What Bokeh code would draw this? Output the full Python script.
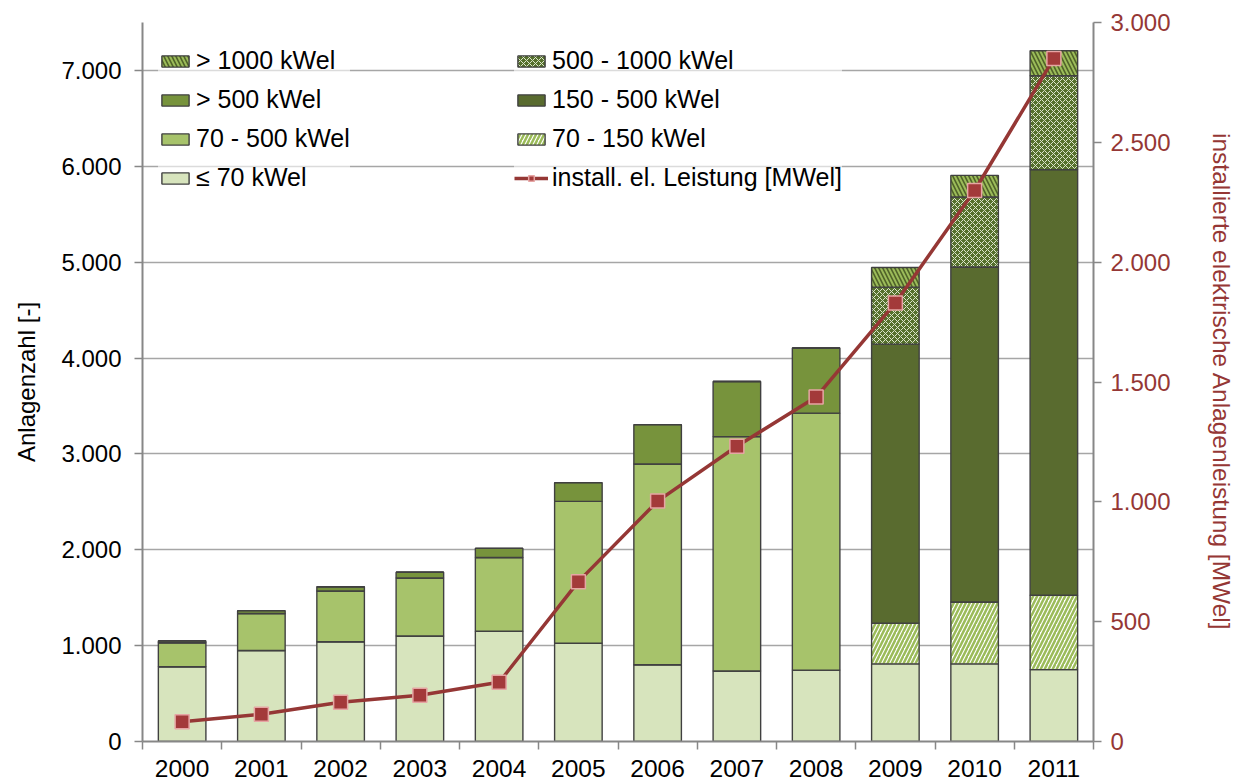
from bokeh.plotting import figure
from bokeh.models import (ColumnDataSource, Range1d, LinearAxis, FixedTicker,
                          CustomJSTickFormatter, Legend, LegendItem)
from bokeh.transform import stack
from bokeh.embed import file_html
from bokeh.resources import INLINE

# ---------------- data ----------------
years = [2000, 2001, 2002, 2003, 2004, 2005, 2006, 2007, 2008, 2009, 2010, 2011]
le70 = [780, 950, 1040, 1100, 1150, 1025, 800, 735, 745, 810, 810, 750]
kw70_150 = [0, 0, 0, 0, 0, 0, 0, 0, 0, 425, 645, 775]
kw70_500 = [250, 385, 530, 605, 770, 1480, 2095, 2445, 2680, 0, 0, 0]
kw150_500 = [0, 0, 0, 0, 0, 0, 0, 0, 0, 2910, 3495, 4440]
gt500 = [20, 30, 45, 60, 95, 195, 410, 575, 680, 0, 0, 0]
kw500_1000 = [0, 0, 0, 0, 0, 0, 0, 0, 0, 595, 730, 980]
gt1000 = [0, 0, 0, 0, 0, 0, 0, 0, 0, 205, 225, 260]
power_mw = [82, 114, 164, 193, 247, 667, 1003, 1232, 1437, 1830, 2299, 2850]

left_ticks = [0, 1000, 2000, 3000, 4000, 5000, 6000, 7000]
right_ticks = [0, 500, 1000, 1500, 2000, 2500, 3000]

labels = {
    "le70": "\u2264 70 kWel",
    "kw70_150": "70 - 150 kWel",
    "kw70_500": "70 - 500 kWel",
    "kw150_500": "150 - 500 kWel",
    "gt500": "> 500 kWel",
    "kw500_1000": "500 - 1000 kWel",
    "gt1000": "> 1000 kWel",
    "power": "install. el. Leistung [MWel]",
}

src = ColumnDataSource(dict(years=years, le70=le70, kw70_150=kw70_150, kw70_500=kw70_500,
                            kw150_500=kw150_500, gt500=gt500, kw500_1000=kw500_1000,
                            gt1000=gt1000, power=power_mw))

FONT = "Liberation Sans"
RED = "#953735"
AXIS = "#878787"

p = figure(width=1237, height=780, output_backend="svg", toolbar_location=None,
           x_range=Range1d(years[0] - 0.5, years[-1] + 0.5),
           y_range=Range1d(0, 7500),
           min_border_left=142, min_border_right=137, min_border_top=22, min_border_bottom=39)
p.extra_y_ranges = {"right": Range1d(0, 3000)}
p.outline_line_color = None
p.background_fill_color = "white"
p.border_fill_color = "white"

# ---------------- stacked bars ----------------
order = ["le70", "kw70_150", "kw70_500", "kw150_500", "gt500", "kw500_1000", "gt1000"]
styles = {
    "le70": dict(fill_color="#D7E4BD"),
    "kw70_150": dict(fill_color="white", hatch_pattern="right_diagonal_line",
                     hatch_color="#9BBB59", hatch_weight=2.5, hatch_scale=8),
    "kw70_500": dict(fill_color="#A7C36B"),
    "kw150_500": dict(fill_color="#596B2F"),
    "gt500": dict(fill_color="#77933C"),
    "kw500_1000": dict(fill_color="#55702C", hatch_pattern="diagonal_cross",
                       hatch_color="#DDE5CC", hatch_weight=1, hatch_scale=6),
    "gt1000": dict(fill_color="#4F6228", hatch_pattern="left_diagonal_line",
                   hatch_color="#9BBB59", hatch_weight=2, hatch_scale=8),
}
renderers = {}
for i, key in enumerate(order):
    r = p.vbar(x="years", width=0.6, bottom=stack(*order[:i]), top=stack(*order[:i + 1]),
               source=src, line_color="#404040", line_width=1.4, **styles[key])
    renderers[key] = r

# ---------------- line on right axis ----------------
lr = p.line(x="years", y="power", source=src, y_range_name="right",
            line_color=RED, line_width=3.5)
sr = p.scatter(x="years", y="power", source=src, y_range_name="right", marker="square",
               size=14, fill_color="#A33A3A", line_color="#E6A5A4", line_width=1.5)

# ---------------- axes ----------------
fmt = CustomJSTickFormatter(code=r"return Math.round(tick).toString().replace(/\B(?=(\d{3})+(?!\d))/g, '.');")

p.xaxis.ticker = FixedTicker(ticks=years, minor_ticks=[y - 0.5 for y in years] + [years[-1] + 0.5])
p.xaxis.major_tick_out = 0
p.xaxis.major_tick_in = 0
p.xaxis.minor_tick_out = 8
p.xaxis.minor_tick_in = 0
p.xaxis.minor_tick_line_color = AXIS
p.xaxis.minor_tick_line_width = 1.5
p.xaxis.axis_line_color = AXIS
p.xaxis.axis_line_width = 2
p.xaxis.major_label_standoff = 10
p.xaxis.major_label_text_font = FONT
p.xaxis.major_label_text_font_size = "24.5px"
p.xaxis.major_label_text_color = "black"

p.yaxis.ticker = FixedTicker(ticks=left_ticks)
p.yaxis.formatter = fmt
p.yaxis.major_tick_out = 8
p.yaxis.major_tick_in = 0
p.yaxis.minor_tick_out = 0
p.yaxis.minor_tick_in = 0
p.yaxis.axis_line_color = AXIS
p.yaxis.axis_line_width = 2
p.yaxis.major_tick_line_color = AXIS
p.yaxis.major_tick_line_width = 1.5
p.yaxis.major_label_standoff = 13
p.yaxis.major_label_text_font = FONT
p.yaxis.major_label_text_font_size = "24px"
p.yaxis.major_label_text_color = "black"
p.yaxis.axis_label = "Anlagenzahl [-]"
p.yaxis.axis_label_text_font = FONT
p.yaxis.axis_label_text_font_size = "24px"
p.yaxis.axis_label_text_font_style = "normal"
p.yaxis.axis_label_text_color = "black"
p.yaxis.axis_label_standoff = 18

ra = LinearAxis(y_range_name="right", ticker=FixedTicker(ticks=right_ticks), formatter=fmt)
ra.major_tick_out = 8
ra.major_tick_in = 0
ra.minor_tick_out = 0
ra.minor_tick_in = 0
ra.axis_line_color = AXIS
ra.axis_line_width = 2
ra.major_tick_line_color = AXIS
ra.major_tick_line_width = 1.5
ra.major_label_standoff = 9
ra.major_label_text_font = FONT
ra.major_label_text_font_size = "24px"
ra.major_label_text_color = RED
ra.axis_label = "installierte elektrische Anlagenleistung [MWel]"
ra.axis_label_text_font = FONT
ra.axis_label_text_font_size = "24.5px"
ra.axis_label_text_font_style = "normal"
ra.axis_label_text_color = RED
ra.axis_label_standoff = 34
p.add_layout(ra, "right")

p.xgrid.grid_line_color = None
p.ygrid.ticker = FixedTicker(ticks=left_ticks)
p.ygrid.grid_line_color = "#A6A6A6"
p.ygrid.grid_line_width = 1.5

# ---------------- legends ----------------
def make_legend(items, loc):
    lg = Legend(items=items, location=loc, orientation="vertical",
                label_text_font=FONT, label_text_font_size="25px", label_text_color="black",
                glyph_width=34, glyph_height=14, label_standoff=4, label_height=28,
                spacing=10, padding=0, margin=0, border_line_color=None,
                background_fill_color="white", background_fill_alpha=0.6)
    return lg

left_items = [LegendItem(label=labels[k], renderers=[renderers[k]])
              for k in ["gt1000", "gt500", "kw70_500", "le70"]]
right_items = [LegendItem(label=labels[k], renderers=[renderers[k]])
               for k in ["kw500_1000", "kw150_500", "kw70_150"]]
right_items.append(LegendItem(label=labels["power"], renderers=[lr, sr]))

p.add_layout(make_legend(left_items, (16, 549)), "center")
p.add_layout(make_legend(right_items, (372, 549)), "center")

open("out.html", "w").write(file_html(p, INLINE))
